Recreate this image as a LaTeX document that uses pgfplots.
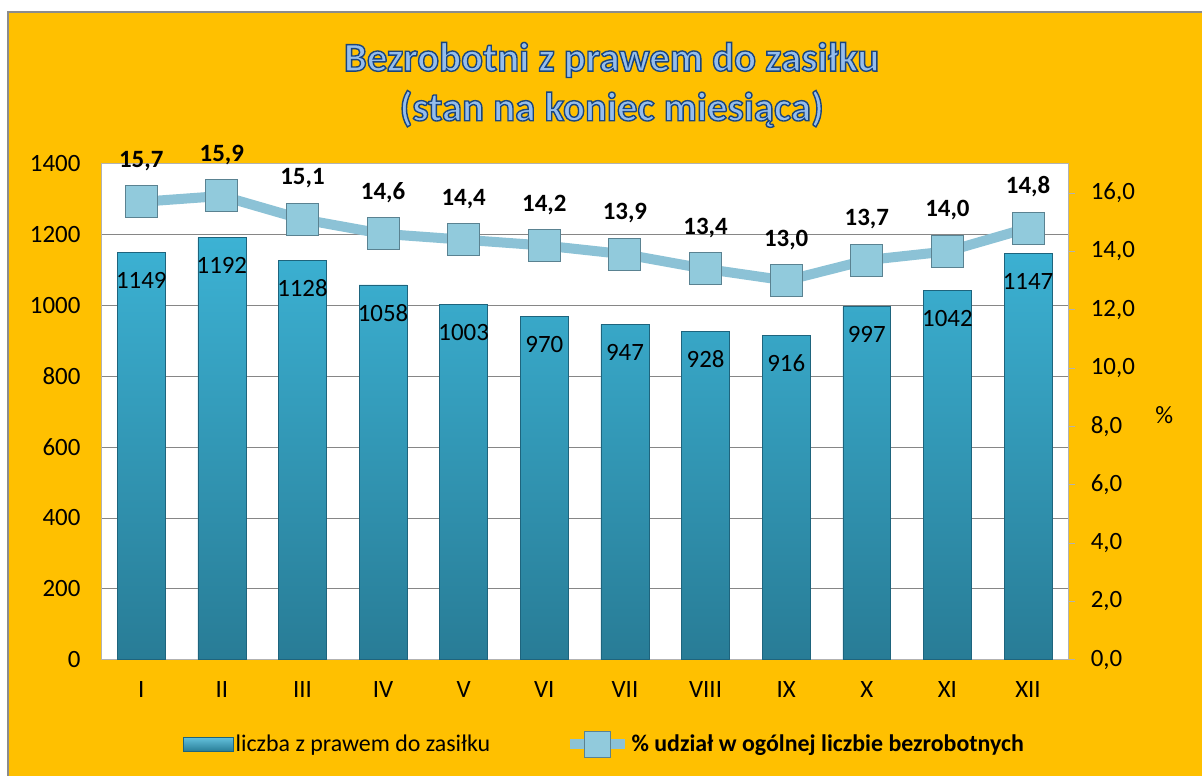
\documentclass[border=0pt]{standalone}
\usepackage{pgfplots}
\pgfplotsset{compat=1.18}
\usepackage{fontspec}
\setmainfont{Carlito}
\definecolor{bg}{RGB}{255,192,0}
\definecolor{bartop}{RGB}{60,178,212}
\definecolor{barbot}{RGB}{40,124,150}
\definecolor{baredge}{RGB}{30,100,125}
\definecolor{linec}{RGB}{140,194,214}
\definecolor{markc}{RGB}{145,202,220}
\definecolor{markedge}{RGB}{90,130,145}
\definecolor{titlefill}{RGB}{150,190,235}
\definecolor{gridc}{RGB}{134,134,134}
\newcommand{\outl}[1]{\special{pdf:literal direct 2 Tr 1.4 w 0.10 0.27 0.50 RG}#1\special{pdf:literal direct 0 Tr}}
\begin{document}
\begin{tikzpicture}
\fill[white] (0bp,0bp) rectangle (1203bp,776bp);
\fill[bg] (8bp,0bp) rectangle (1203bp,764bp);
\draw[gray!90, line width=1.5bp] (8bp,0bp) -- (8bp,764bp) -- (1203bp,764bp);
\node[font=\fontsize{41}{48}\selectfont\bfseries, text=titlefill] at (612bp,716bp) {\outl{Bezrobotni z prawem do zasiłku}};
\node[font=\fontsize{41}{48}\selectfont\bfseries, text=titlefill] at (612bp,667bp) {\outl{(stan na koniec miesiąca)}};
\begin{axis}[
  at={(101bp,116bp)}, anchor=south west, scale only axis,
  width=968bp, height=496bp,
  ybar, bar width=48bp,
  xmin=-0.5, xmax=11.5, ymin=0, ymax=1400,
  ytick={0,200,...,1400},
  xtick={0,...,11},
  xticklabels={I,II,III,IV,V,VI,VII,VIII,IX,X,XI,XII},
  axis background/.style={fill=white},
  ymajorgrids, grid style={gridc, line width=0.8bp},
  axis line style={gray!60, line width=0.8bp},
  major tick length=0pt,
  tick label style={font=\fontsize{25}{30}\selectfont},
  /pgf/number format/assume math mode=true,
  /pgf/number format/1000 sep={},
  yticklabel style={xshift=-17bp},
  xticklabel style={yshift=-18bp},
  clip=false,
  legend style={at={(0.0816,-0.171)}, anchor=west, draw=none, fill=none,
    font=\fontsize{24}{28}\selectfont},
]
\addplot[draw=baredge, line width=0.6bp, top color=bartop, bottom color=barbot,
  nodes near coords,
  every node near coord/.append style={anchor=center, yshift=-28bp, black, font=\fontsize{25}{30}\selectfont},
  legend image code/.code={\fill[top color=bartop!80!white, bottom color=barbot, draw=baredge] (0bp,-7bp) rectangle (50bp,7bp);}
] coordinates {(0,1149) (1,1192) (2,1128) (3,1058) (4,1003) (5,970) (6,947) (7,928) (8,916) (9,997) (10,1042) (11,1147)};
\addlegendentry{liczba z prawem do zasiłku}
\end{axis}
\begin{axis}[
  at={(101bp,116bp)}, anchor=south west, scale only axis,
  width=968bp, height=496bp,
  xmin=-0.5, xmax=11.5, ymin=0, ymax=17,
  axis y line*=right, axis x line=none,
  ytick={0,2,...,16},
  tick align=outside, major tick length=7bp,
  y axis line style={gray!60, line width=0.8bp},
  ytick style={gray!60, line width=0.8bp},
  tick label style={font=\fontsize{25}{30}\selectfont},
  yticklabel style={xshift=12bp},
  /pgf/number format/assume math mode=true,
  yticklabel={\pgfmathprintnumber[fixed, fixed zerofill, precision=1, use comma]{\tick}},
  clip=false,
  legend style={at={(0.476,-0.171)}, anchor=west, draw=none, fill=none,
    font=\fontsize{24}{28}\selectfont\bfseries},
]
\addplot[linec, line width=10bp, mark=square*, mark size=16bp,
  mark options={fill=markc, draw=markedge, line width=1bp},
  nodes near coords={\pgfmathprintnumber[fixed, fixed zerofill, precision=1, use comma]{\pgfplotspointmeta}},
  every node near coord/.append style={anchor=center, yshift=41bp, black, font=\fontsize{25}{30}\selectfont\bfseries},
  legend image code/.code={\draw[linec, line width=10bp] (0bp,0bp) -- (55bp,0bp); \filldraw[fill=markc, draw=markedge, line width=1bp] (15bp,-13bp) rectangle (41bp,13bp);}
] coordinates {(0,15.7) (1,15.9) (2,15.1) (3,14.6) (4,14.4) (5,14.2) (6,13.9) (7,13.4) (8,13.0) (9,13.7) (10,14.0) (11,14.8)};
\addlegendentry{\% udział w ogólnej liczbie bezrobotnych}
\node[font=\fontsize{25}{30}\selectfont, anchor=center] at (rel axis cs:1,0.5) [xshift=96bp, yshift=-3bp] {\%};
\end{axis}
\end{tikzpicture}
\end{document}
